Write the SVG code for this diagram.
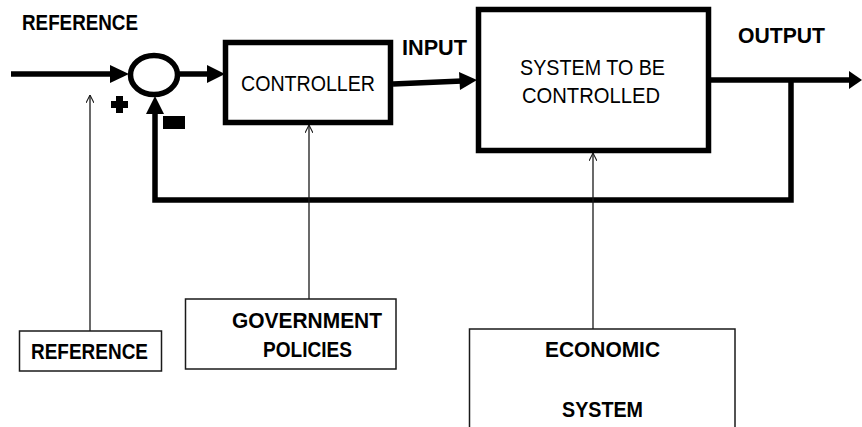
<svg xmlns="http://www.w3.org/2000/svg" width="862" height="427" viewBox="0 0 862 427">
<defs>
<style>
.thick{fill:none;stroke:#000;stroke-width:5.5}
.thin{fill:none;stroke:#1a1a1a;stroke-width:1.3}
.box{fill:#fff;stroke:#000;stroke-width:5.5}
.sbox{fill:#fff;stroke:#1a1a1a;stroke-width:1.5}
.head{fill:#000}
.b{font-family:"Liberation Sans",Arial,sans-serif;font-weight:bold;font-size:21.5px;fill:#000;text-anchor:middle}
.r{font-family:"Liberation Sans",Arial,sans-serif;font-size:22px;fill:#000;text-anchor:middle}
</style>
<marker id="open" viewBox="0 0 10 10" refX="10" refY="5" markerWidth="8" markerHeight="8" markerUnits="userSpaceOnUse" orient="auto">
<path d="M0,0 L10,5 L0,10" fill="none" stroke="#1a1a1a" stroke-width="1.3"/>
</marker>
</defs>
<rect width="862" height="427" fill="#fff"/>

<g id="connectors">
<line class="thick" x1="11" y1="74" x2="112" y2="74"/>
<polygon class="head" points="110,65 129,74 110,83"/>
<line class="thick" x1="178" y1="74" x2="209" y2="74"/>
<polygon class="head" points="207,65 225,74 207,83"/>
<line class="thick" x1="393" y1="84" x2="462" y2="81"/>
<polygon class="head" points="459,72 477,80 460,90"/>
<line class="thick" x1="711" y1="80" x2="850" y2="80"/>
<polygon class="head" points="849,71 862,80 849,89"/>
<polyline class="thick" points="791,80 791,200 155,200 155,110"/>
<polygon class="head" points="146,114 155,96 164,114"/>
<line class="thin" x1="90" y1="331" x2="90" y2="95" marker-end="url(#open)"/>
<line class="thin" x1="309" y1="299" x2="309" y2="125" marker-end="url(#open)"/>
<line class="thin" x1="593" y1="329" x2="593" y2="153" marker-end="url(#open)"/>
</g>

<g id="summing-junction">
<ellipse class="thick" cx="154" cy="75" rx="23.5" ry="19.5"/>
<path d="M116,96 h7 v5 h5 v7 h-5 v5 h-7 v-5 h-5 v-7 h5 z" fill="#000"/>
<rect x="163" y="116" width="22" height="13" fill="#000"/>
</g>

<g id="reference-label">
<text class="b" x="80" y="30" textLength="116" lengthAdjust="spacingAndGlyphs">REFERENCE</text>
</g>

<g id="controller">
<rect class="box" x="225.5" y="42.5" width="165" height="80"/>
<text class="r" x="308" y="91" textLength="134" lengthAdjust="spacingAndGlyphs">CONTROLLER</text>
</g>

<g id="input-label">
<text class="b" x="434.5" y="55" textLength="65" lengthAdjust="spacingAndGlyphs">INPUT</text>
</g>

<g id="system">
<rect class="box" x="478.5" y="9.5" width="230" height="141"/>
<text class="r" x="592.5" y="75" textLength="145" lengthAdjust="spacingAndGlyphs">SYSTEM TO BE</text>
<text class="r" x="591" y="103" textLength="138" lengthAdjust="spacingAndGlyphs">CONTROLLED</text>
</g>

<g id="output-label">
<text class="b" x="781.5" y="43" textLength="87" lengthAdjust="spacingAndGlyphs">OUTPUT</text>
</g>

<g id="reference-box">
<rect class="sbox" x="19.5" y="331" width="142" height="40"/>
<text class="b" x="89.5" y="359" textLength="117" lengthAdjust="spacingAndGlyphs">REFERENCE</text>
</g>

<g id="government-policies">
<rect class="sbox" x="185.5" y="299" width="210.5" height="70"/>
<text class="b" x="307" y="328" textLength="150" lengthAdjust="spacingAndGlyphs">GOVERNMENT</text>
<text class="b" x="307.5" y="357" textLength="89" lengthAdjust="spacingAndGlyphs">POLICIES</text>
</g>

<g id="economic-system">
<rect class="sbox" x="469.5" y="329" width="265.5" height="110"/>
<text class="b" x="602.5" y="357" textLength="115" lengthAdjust="spacingAndGlyphs">ECONOMIC</text>
<text class="b" x="602.5" y="417" textLength="81" lengthAdjust="spacingAndGlyphs">SYSTEM</text>
</g>
</svg>
